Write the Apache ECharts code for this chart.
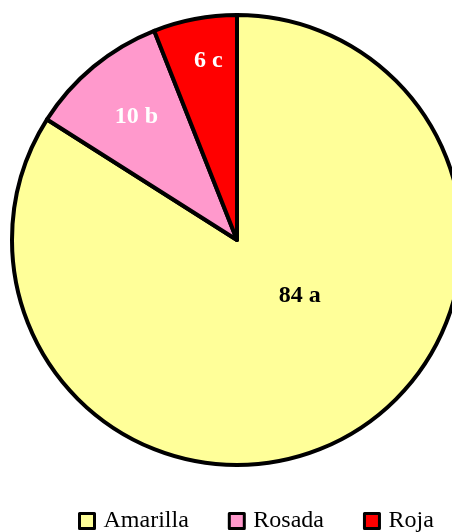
<!DOCTYPE html>
<html>
<head>
    <meta charset="utf-8">
    <title>Color</title>
    <script src="https://cdn.jsdelivr.net/npm/echarts@6/dist/echarts.min.js"></script>
    <style>
        html, body { margin: 0; padding: 0; background: #fff; }
    </style>
</head>
<body>
<div id="main" style="width: 452px;height:532px;"></div>
<script type="text/javascript">
    var categories = ['Amarilla', 'Rosada', 'Roja'];
    var values = [84, 10, 6];
    var letters = ['a', 'b', 'c'];

    // colores y desplazamiento de etiquetas (solo estilo)
    var colors = ['#FFFF99', '#FF99CC', '#FF0000'];
    var labelColors = ['#000000', '#FFFFFF', '#FFFFFF'];
    var labelShift = [[7, -45], [-27, -34], [-7, -66]];
    var legendTextWidth = [86, 76, 50];

    var font = "'Times New Roman', 'Liberation Serif', serif";

    var myChart = echarts.init(document.getElementById('main'));

    var pieData = categories.map(function (name, i) {
        return {
            name: name,
            value: values[i],
            itemStyle: { color: colors[i] },
            label: { color: labelColors[i] }
        };
    });

    var legendData = categories.map(function (name, i) {
        return { name: name, textStyle: { width: legendTextWidth[i] } };
    });

    var option = {
        animation: false,
        legend: {
            data: legendData,
            left: 78,
            top: 509,
            padding: 0,
            icon: 'rect',
            itemWidth: 15,
            itemHeight: 15,
            itemGap: 39,
            itemStyle: { borderColor: '#000', borderWidth: 3 },
            textStyle: {
                fontFamily: font,
                fontSize: 24,
                color: '#000',
                padding: [0, 0, 0, 4]
            }
        },
        series: [
            {
                type: 'pie',
                center: [237, 240],
                radius: 225,
                startAngle: 90,
                clockwise: true,
                data: pieData,
                itemStyle: {
                    borderColor: '#000',
                    borderWidth: 4
                },
                label: {
                    position: 'inside',
                    fontFamily: font,
                    fontWeight: 'bold',
                    fontSize: 24,
                    formatter: function (p) {
                        return p.value + ' ' + letters[p.dataIndex];
                    }
                },
                labelLine: { show: false },
                labelLayout: function (params) {
                    var s = labelShift[params.dataIndex];
                    return { dx: s[0], dy: s[1] };
                },
                emphasis: { disabled: true }
            }
        ]
    };

    myChart.setOption(option);
</script>
</body>
</html>
